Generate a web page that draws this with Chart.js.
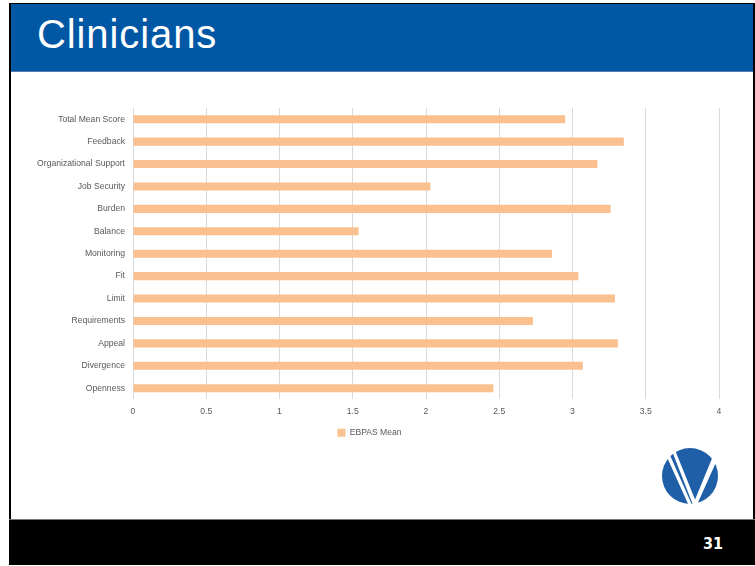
<!DOCTYPE html>
<html>
<head>
<meta charset="utf-8">
<script src="https://cdn.jsdelivr.net/npm/chart.js@4"></script>
<style>
  body { margin: 0; background: #fff; }
  #slide { position: relative; width: 755px; height: 566px; overflow: hidden; background: #fff; }
  #frame { position: absolute; left: 9px; top: 3px; width: 742px; height: 516px;
           border-left: 2px solid #000; border-top: 1px solid #000; border-right: 2px solid #000; }
  #header { position: absolute; left: 11px; top: 4px; width: 742px; height: 67px; background: #0057a3;
            border-bottom: 1px solid #5a7bb0; }
  #title { position: absolute; left: 37px; top: 12px; color: #fff; font-family: "Liberation Sans", Arial, sans-serif;
           font-size: 40px; letter-spacing: 0.9px; }
  #footer { position: absolute; left: 9px; top: 519px; width: 746px; height: 45px; background: #000;
            border-top: 1px solid #777; }
  #page { position: absolute; left: 703px; top: 534px; color: #fff; font-family: "Liberation Sans Narrow", "DejaVu Sans Condensed", sans-serif;
          font-weight: bold; font-size: 16px; }
  #logo { position: absolute; left: 660px; top: 445px; }
  #chart { position: absolute; left: 0; top: 0; }
</style>
</head>
<body>
<div id="slide">
  <div id="frame"></div>
  <div id="header"></div>
  <div id="title">Clinicians</div>
  <svg id="logo" width="62" height="64" viewBox="0 0 62 64">
    <circle cx="30" cy="31" r="28" fill="#1f5fa8"/>
    <polygon points="6,10 9,8 32,60 29,61" fill="#fff"/>
    <polygon points="12,6 15,5 36,57 33,60" fill="#fff"/>
    <polygon points="53,11 57,15 36,62 32,62" fill="#fff"/>
  </svg>
  <div id="footer"></div>
  <div id="page">31</div>
  <canvas id="chart" width="755" height="566"></canvas>
</div>
<script>
const categories = [
  "Total Mean Score", "Feedback", "Organizational Support", "Job Security", "Burden",
  "Balance", "Monitoring", "Fit", "Limit", "Requirements", "Appeal", "Divergence", "Openness"
];
const ebpasMean = [2.95, 3.35, 3.17, 2.03, 3.26, 1.54, 2.86, 3.04, 3.29, 2.73, 3.31, 3.07, 2.46];
const xTickLabels = ["0", "0.5", "1", "1.5", "2", "2.5", "3", "3.5", "4"];

const TEXT = "#595959";
const FONT = { family: "Liberation Sans, Arial, sans-serif", size: 8.6 };

const ctx = document.getElementById("chart").getContext("2d");
new Chart(ctx, {
  type: "bar",
  data: {
    labels: categories,
    datasets: [{
      label: "EBPAS Mean",
      data: ebpasMean,
      backgroundColor: "#fbc08f",
      barPercentage: 0.36,
      categoryPercentage: 1
    }]
  },
  options: {
    indexAxis: "y",
    responsive: false,
    animation: false,
    layout: { padding: { left: 20, right: 36, top: 108, bottom: 119 } },
    scales: {
      x: {
        min: 0, max: 4,
        ticks: {
          stepSize: 0.5, color: TEXT, font: FONT, padding: 7,
          callback: (v, i) => xTickLabels[i]
        },
        grid: { color: "#d9d9d9", drawTicks: false },
        border: { display: false },
        afterFit: s => { s.height = 22; }
      },
      y: {
        ticks: { color: TEXT, font: FONT, padding: 8 },
        grid: { display: false, drawTicks: false },
        border: { display: false },
        afterFit: s => { s.width = 113; }
      }
    },
    plugins: {
      legend: {
        position: "bottom",
        labels: { color: TEXT, font: FONT, boxWidth: 8, boxHeight: 8, padding: 7 }
      },
      tooltip: { enabled: false }
    }
  }
});
</script>
</body>
</html>
